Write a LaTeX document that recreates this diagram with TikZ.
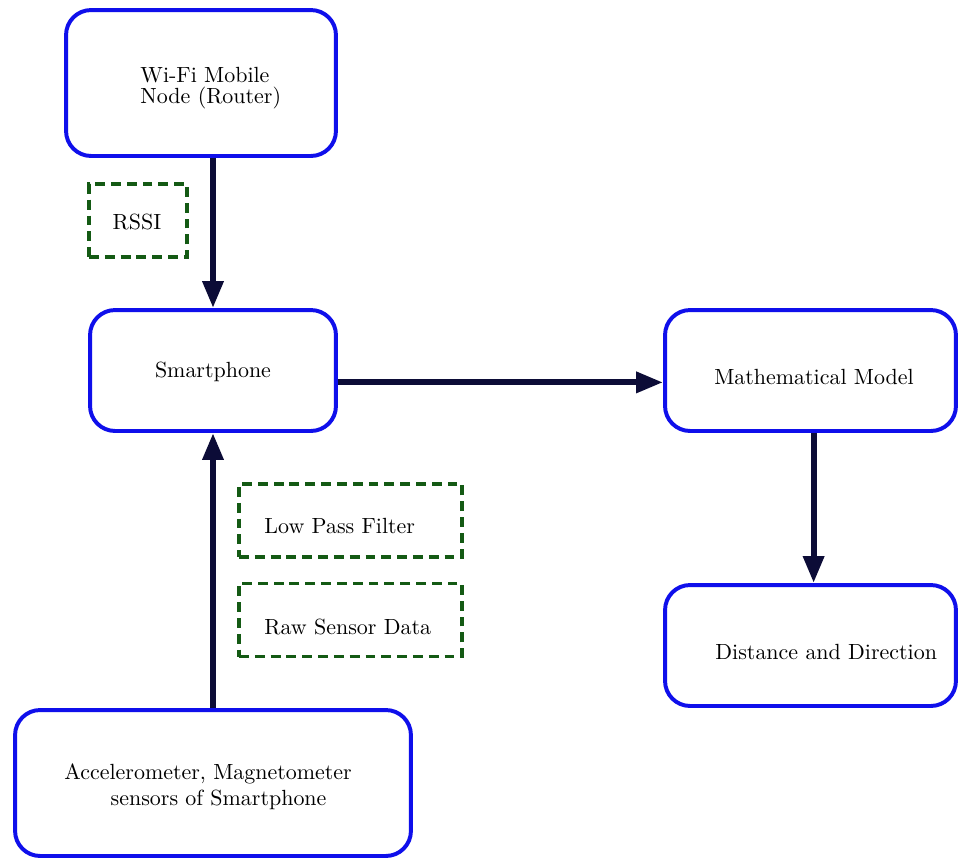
\documentclass[tikz,border=0pt]{standalone}
\usetikzlibrary{arrows.meta}
\definecolor{boxblue}{RGB}{15,15,235}
\definecolor{arrownavy}{RGB}{12,12,55}
\definecolor{dashgreen}{RGB}{20,90,20}
\begin{document}
\begin{tikzpicture}[x=0.016cm,y=-0.016cm,
  bluebox/.style={draw=boxblue,line width=1.8pt,rounded corners=0.4cm,fill=white},
  greenbox/.style={draw=dashgreen,line width=1.6pt,dash pattern=on 4.5pt off 2.7pt},
  flow/.style={draw=arrownavy,line width=2.8pt,-{Triangle[length=0.43cm,width=0.32cm]}},
  lbl/.style={font=\fontsize{10}{12}\selectfont,inner sep=0pt}]
\useasboundingbox (0,0) rectangle (958,858);
% boxes
\node[bluebox,minimum width=4.32cm,minimum height=2.336cm] (wifi) at (201,83) {};
\node[greenbox,minimum width=1.568cm,minimum height=1.168cm] (rssi) at (138,220.5) {};
\node[bluebox,minimum width=3.936cm,minimum height=1.936cm] (phone) at (213,370.5) {};
\node[bluebox,minimum width=4.656cm,minimum height=1.936cm] (math) at (810.5,370.5) {};
\node[greenbox,minimum width=3.568cm,minimum height=1.168cm] (lpf) at (350.5,520.5) {};
\node[greenbox,minimum width=3.568cm,minimum height=1.168cm] (raw) at (350.5,620) {};
\node[bluebox,minimum width=4.656cm,minimum height=1.936cm] (dist) at (810.5,645.5) {};
\node[bluebox,minimum width=6.336cm,minimum height=2.336cm] (acc) at (213,783) {};
% texts
\node[lbl,anchor=west,align=left,font=\fontsize{10}{9.5}\selectfont] (wifit) at (140,88) {Wi-Fi Mobile\\Node (Router)};
\node[lbl] (rssit) at (137,222) {RSSI};
\node[lbl] (phonet) at (213,372) {Smartphone};
\node[lbl] (matht) at (814,377) {Mathematical Model};
\node[lbl,anchor=west] (lpft) at (264,526) {Low Pass Filter};
\node[lbl,anchor=west] (rawt) at (264,627) {Raw Sensor Data};
\node[lbl,anchor=west] (distt) at (715,652) {Distance and Direction};
\node[lbl,anchor=west,align=left] (acct) at (64,787) {Accelerometer, Magnetometer\\\hspace*{0.74cm}sensors of Smartphone};
% connectors
\draw[flow] (phone.north |- wifi.south) -- (phone.north);
\draw[flow] (acc.north) -- (phone.south);
\draw[flow] ([yshift=-0.19cm]phone.east) -- ([yshift=-0.19cm]math.west);
\draw[flow] ([xshift=0.05cm]math.south) -- ([xshift=0.05cm]dist.north);
\end{tikzpicture}
\end{document}
